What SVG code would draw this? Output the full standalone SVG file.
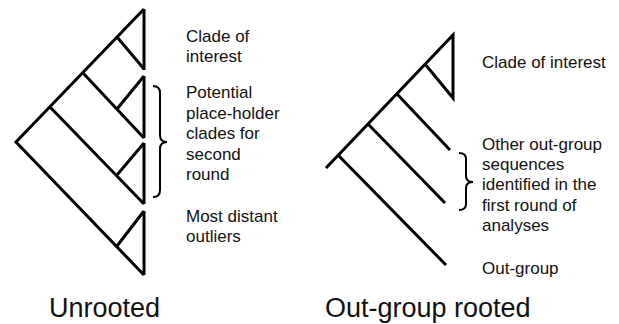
<svg xmlns="http://www.w3.org/2000/svg" width="619" height="324" viewBox="0 0 619 324">
<style>
.ln{fill:none;stroke:#000;stroke-width:3;stroke-linecap:butt;stroke-linejoin:miter}
.br{fill:none;stroke:#000;stroke-width:2}
.t{font-family:"Liberation Sans",Arial,sans-serif;font-size:17px;fill:#111}
.big{font-family:"Liberation Sans",Arial,sans-serif;font-size:27px;fill:#111}
</style>
<rect width="619" height="324" fill="#fff"/>
<g id="connectors">
<g id="unrooted-tree">
<path class="ln" d="M144,9 L16,142 L144,275"/>
<path class="ln" d="M144,9 V70 M144,76 V138 M144,143 V204 M144,211 V275"/>
<path class="ln" d="M117,37 L144,69"/>
<path class="ln" d="M83,73 L144,138"/>
<path class="ln" d="M144,76 L117,109"/>
<path class="ln" d="M50,107 L144,204"/>
<path class="ln" d="M144,143 L117,175"/>
<path class="ln" d="M144,211 L117,246"/>
</g>
<g id="rooted-tree">
<path class="ln" d="M326,168 L453,35 V98 L425,64"/>
<path class="ln" d="M397,94 L450,150"/>
<path class="ln" d="M368,124 L445,203"/>
<path class="ln" d="M338,155 L446,265"/>
</g>
<path id="brace-left" class="br" d="M153,86 C158,86 160,88 160,93 L160,135 C160,140 162,142 167,142 C162,142 160,144 160,149 L160,190 C160,195 158,197 153,197"/>
<path id="brace-right" class="br" d="M459,153 C464,153 466,155 466,159 L466,176 C466,180 468,182 473,182 C468,182 466,184 466,188 L466,204 C466,208 464,210 459,210"/>
</g>
<g id="label-clade-left">
<text class="t" x="186" y="42">Clade of</text>
<text class="t" x="186" y="62">interest</text>
</g>
<g id="label-placeholder">
<text class="t" x="186" y="98">Potential</text>
<text class="t" x="186" y="118.5">place-holder</text>
<text class="t" x="186" y="139">clades for</text>
<text class="t" x="186" y="159.5">second</text>
<text class="t" x="186" y="180">round</text>
</g>
<g id="label-distant">
<text class="t" x="186" y="222">Most distant</text>
<text class="t" x="186" y="242">outliers</text>
</g>
<g id="label-clade-right">
<text class="t" x="482" y="68">Clade of interest</text>
</g>
<g id="label-other">
<text class="t" x="482" y="149.5">Other out-group</text>
<text class="t" x="482" y="170">sequences</text>
<text class="t" x="482" y="190.3">identified in the</text>
<text class="t" x="482" y="210.6">first round of</text>
<text class="t" x="482" y="231">analyses</text>
</g>
<g id="label-outgroup">
<text class="t" x="482" y="274">Out-group</text>
</g>
<g id="caption-unrooted"><text class="big" x="49" y="317">Unrooted</text></g>
<g id="caption-rooted"><text class="big" x="325" y="317">Out-group rooted</text></g>
</svg>
